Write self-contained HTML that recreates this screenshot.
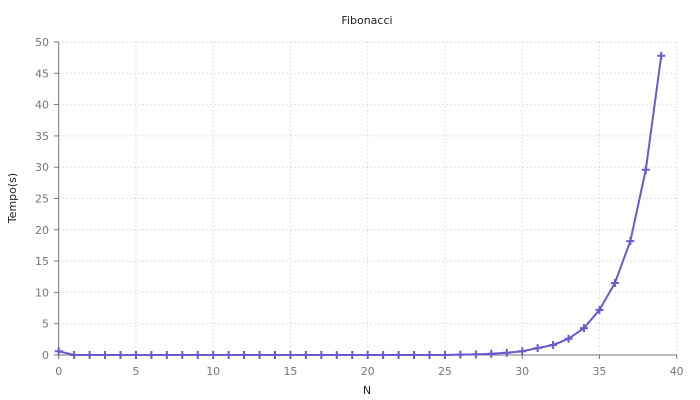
<!DOCTYPE html>
<html><head><meta charset="utf-8"><style>
body{margin:0;background:#fff}
svg{display:block;font-family:"DejaVu Sans","Liberation Sans",sans-serif}
</style></head><body>
<svg id="c" width="700" height="400">
<text x="367" y="24" text-anchor="middle" font-size="11" fill="#222">Fibonacci</text>
<text x="367" y="394" text-anchor="middle" font-size="11" fill="#222">N</text>
<text transform="translate(16,198) rotate(-90)" text-anchor="middle" font-size="11" fill="#222">Tempo(s)</text>
<g id="grid"></g><g id="axes"></g><g id="series"></g>
</svg>
<script>
const xTicks=[0,5,10,15,20,25,30,35,40];
const yTicks=[0,5,10,15,20,25,30,35,40,45,50];
const nValues=[0,1,2,3,4,5,6,7,8,9,10,11,12,13,14,15,16,17,18,19,20,21,22,23,24,25,26,27,28,29,30,31,32,33,34,35,36,37,38,39];
const times=[0.6,0,0,0,0,0,0,0,0,0,0,0,0,0,0,0,0,0,0,0,0,0,0,0,0,0,0.05,0.1,0.2,0.35,0.6,1.1,1.6,2.6,4.3,7.2,11.5,18.2,29.6,47.8];
const NS="http://www.w3.org/2000/svg";
const X=v=>58.7+v*15.45, Y=v=>355-v*6.26;
function mk(t,a,p){const e=document.createElementNS(NS,t);for(const k in a)e.setAttribute(k,a[k]);p.appendChild(e);return e;}
const g=document.getElementById('grid'),ax=document.getElementById('axes'),s=document.getElementById('series');
xTicks.forEach(v=>{
 if(v>0){const l=mk('line',{x1:X(v),x2:X(v),y1:Y(0),y2:Y(50),stroke:'#c8c8c8','stroke-dasharray':'1,3'},g);
 
 }
 const t=mk('text',{x:X(v),y:375,'text-anchor':'middle','font-size':11,fill:'#777'},ax);t.textContent=v;
 
 
 mk('line',{x1:X(v),x2:X(v),y1:355,y2:359,stroke:'#777'},ax);
});
yTicks.forEach(v=>{
 if(v>0){const l=mk('line',{x1:X(0),x2:677,y1:Y(v),y2:Y(v),stroke:'#c8c8c8','stroke-dasharray':'1,3'},g);
 
 }
 const t=mk('text',{x:49,y:Y(v)+4,'text-anchor':'end','font-size':11,fill:'#777'},ax);t.textContent=v;
 
 
 mk('line',{x1:54,x2:X(0),y1:Y(v),y2:Y(v),stroke:'#777'},ax);
});
const ya=mk('line',{x1:X(0),x2:X(0),y1:Y(50),y2:355,stroke:'#777'},ax);


const xa=mk('line',{x1:X(0),x2:677,y1:355,y2:355,stroke:'#777'},ax);


const pts=nValues.map((n,i)=>X(n)+','+Y(times[i])).join(' ');
const pl=mk('polyline',{points:pts,fill:'none',stroke:'#6a5acd','stroke-width':2},s);


nValues.forEach((n,i)=>{
 const x=X(n),y=Y(times[i]);
 const m=mk('path',{d:`M${x-4},${y}H${x+4}M${x},${y-4}V${y+4}`,stroke:'#6a5acd','stroke-width':2},s);
 
 
});
</script>
</body></html>
